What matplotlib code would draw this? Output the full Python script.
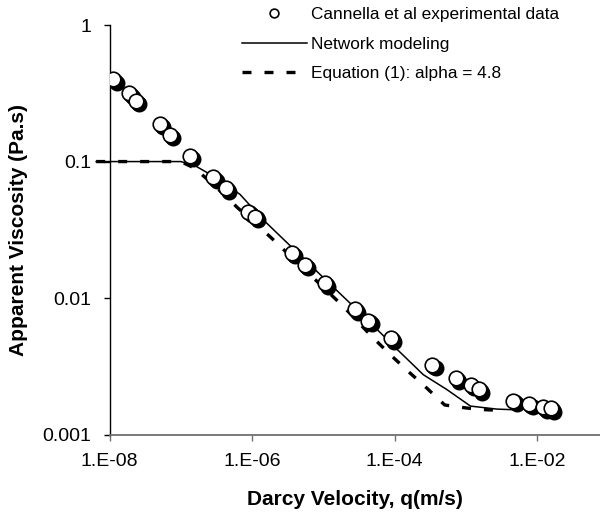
import matplotlib
matplotlib.use("Agg")
import matplotlib.pyplot as plt
from matplotlib import transforms
from matplotlib.ticker import FixedLocator, FixedFormatter, NullLocator

plt.rcParams['font.family'] = ['Liberation Sans', 'DejaVu Sans']

# Experimental data (Cannella et al)
exp_q = [1.13e-8, 1.90e-8, 2.36e-8, 5.1e-8, 7.06e-8, 1.35e-7, 2.86e-7, 4.31e-7,
         8.85e-7, 1.10e-6, 3.59e-6, 5.52e-6, 1.05e-5, 2.77e-5, 4.27e-5, 8.79e-5,
         3.37e-4, 7.16e-4, 1.16e-3, 1.52e-3, 4.60e-3, 7.73e-3, 1.21e-2, 1.54e-2]
exp_mu = [0.40, 0.316, 0.279, 0.188, 0.157, 0.110, 0.0767, 0.0638,
          0.043, 0.0395, 0.0215, 0.0175, 0.01285, 0.0083, 0.00684, 0.00508,
          0.00324, 0.00259, 0.00232, 0.00215, 0.00178, 0.00168, 0.00159, 0.00156]

# Network modeling
net_q = [6.5e-9, 1.0e-7, 1.58e-7, 3.16e-7, 6.76e-7, 1.45e-6, 1.0e-5, 3.98e-5,
         1.05e-4, 2.51e-4, 5.37e-4, 1.15e-3, 2.69e-3, 5.13e-3]
net_mu = [0.1, 0.1, 0.0933, 0.0759, 0.0575, 0.0372, 0.0141, 0.00708,
          0.00427, 0.00275, 0.00214, 0.00162, 0.00154, 0.00152]

# Equation (1), alpha = 4.8
eq_q = [6.5e-9, 1.0e-7, 1.58e-7, 3.16e-7, 6.31e-7, 1.78e-6, 1.91e-5, 4.79e-5,
        8.71e-5, 1.55e-4, 2.82e-4, 5.01e-4, 1.0e-3, 1.58e-3, 2.82e-3]
eq_mu = [0.1, 0.1, 0.0891, 0.0646, 0.0457, 0.0282, 0.00867, 0.00522,
         0.00384, 0.0029, 0.00219, 0.00165, 0.00157, 0.00153, 0.00151]

x_ticks = [1e-8, 1e-6, 1e-4, 1e-2]
x_ticklabels = ["1.E-08", "1.E-06", "1.E-04", "1.E-02"]
y_ticks = [0.001, 0.01, 0.1, 1]
y_ticklabels = ["0.001", "0.01", "0.1", "1"]

fig = plt.figure(figsize=(6.0, 5.17), dpi=100)
ax = fig.add_axes([109.5/600, 1-434.7/517, 1-109.5/600, (434.7-25)/517])
ax.set_xscale('log')
ax.set_yscale('log')
ax.set_xlim(1e-8, 0.0753)
ax.set_ylim(0.001, 1)

# lines
ax.plot(net_q, net_mu, color='black', lw=1.1, clip_on=False, zorder=2,
        label='Network modeling')
ax.plot(eq_q, eq_mu, color='black', lw=2.4, dashes=(2.7, 3.9), clip_on=False,
        zorder=2, label='Equation (1): alpha = 4.8')

# shadows of experimental points
for off in (1.3, 2.4):
    tr = transforms.offset_copy(ax.transData, fig=fig, x=off, y=-off, units='points')
    ax.plot(exp_q, exp_mu, linestyle='none', marker='o', markersize=10.5,
            markerfacecolor='black', markeredgecolor='black', transform=tr,
            zorder=3, label='_nolegend_')
ax.plot(exp_q, exp_mu, linestyle='none', marker='o', markersize=10.5,
        markerfacecolor='white', markeredgecolor='black', markeredgewidth=1.2,
        zorder=4, label='Cannella et al experimental data')

# axes styling
for s in ('top', 'right'):
    ax.spines[s].set_visible(False)
ax.spines['left'].set_color('black')
ax.spines['left'].set_linewidth(1.0)
ax.spines['bottom'].set_color('#707070')
ax.spines['bottom'].set_linewidth(1.3)

ax.xaxis.set_major_locator(FixedLocator(x_ticks))
ax.xaxis.set_major_formatter(FixedFormatter(x_ticklabels))
ax.xaxis.set_minor_locator(NullLocator())
ax.yaxis.set_major_locator(FixedLocator(y_ticks))
ax.yaxis.set_major_formatter(FixedFormatter(y_ticklabels))
ax.yaxis.set_minor_locator(NullLocator())
ax.tick_params(axis='both', direction='out', length=4.3, width=1.0,
               colors='black', labelsize=14)
ax.tick_params(axis='x', pad=9, color='#707070', labelcolor='black')
ax.tick_params(axis='y', pad=9)

ax.set_xlabel('Darcy Velocity, q(m/s)', fontsize=15, fontweight='bold', labelpad=14)
ax.set_ylabel('Apparent Viscosity (Pa.s)', fontsize=15, fontweight='bold', labelpad=10)

h, l = ax.get_legend_handles_labels()
order = [2, 0, 1]
leg = ax.legend([h[i] for i in order], [l[i] for i in order],
                loc='upper left', bbox_to_anchor=(241.7/600, 1-7/517),
                bbox_transform=fig.transFigure, frameon=False, fontsize=12.4,
                handlelength=3.8, handletextpad=0.2, labelspacing=0.84,
                borderpad=0, borderaxespad=0, markerscale=0.6)

fig.savefig('out.png', dpi=100)
